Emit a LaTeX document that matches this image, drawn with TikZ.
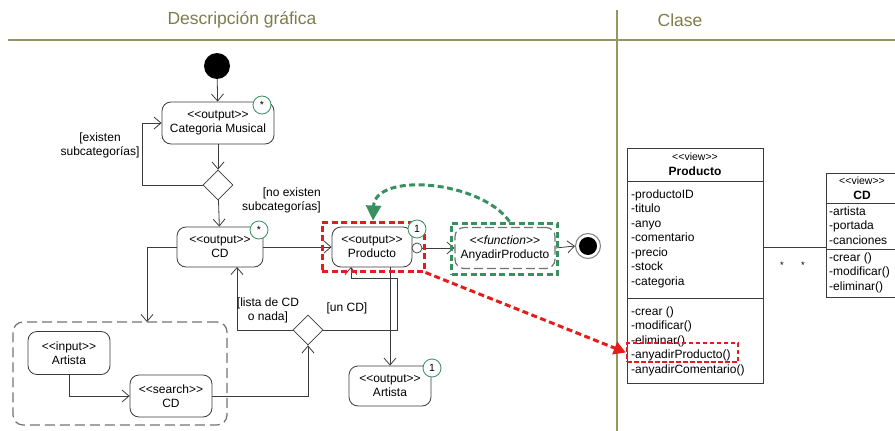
\documentclass[tikz,border=0pt]{standalone}
\usepackage{fontspec}
\setmainfont{Liberation Sans}
\usetikzlibrary{arrows.meta,shapes.geometric}
\definecolor{olivetxt}{RGB}{125,125,75}
\definecolor{oliveline}{RGB}{150,150,100}
\definecolor{umlgreen}{RGB}{55,145,95}
\definecolor{umlred}{RGB}{228,28,28}
\definecolor{edge}{RGB}{60,60,60}
\newcommand\umlfont{\fontsize{12}{14}\selectfont}
\newcommand\st[1]{<{}<#1>{}>}
\tikzset{
  flow/.style={draw=edge, line width=0.8pt, -{Straight Barb[length=7pt,width=12pt]}},
  act/.style={draw=edge, line width=0.8pt, rounded corners=9pt, align=center,
    inner sep=0pt, font=\umlfont, fill=white},
  grayact/.style={act, draw=gray!90!black, line width=1.2pt, dash pattern=on 9pt off 4pt},
  mult/.style={circle, draw=umlgreen, line width=0.8pt, fill=white, minimum size=18pt,
    inner sep=0pt, font=\fontsize{10.5}{10.5}\selectfont},
  dec/.style={diamond, draw=edge, line width=0.8pt, fill=white, minimum width=30pt,
    minimum height=30pt, inner sep=0pt},
  guard/.style={font=\umlfont, align=center, inner sep=0pt},
  hilite/.style={line width=3pt, dash pattern=on 6pt off 3.5pt},
  clsbox/.style={draw=edge, line width=0.8pt, anchor=north west, inner sep=0pt},
  clstxt/.style={font=\umlfont, anchor=west, inner sep=0pt, text height=8.8pt, text depth=2.6pt},
  head/.style={olivetxt, font=\fontsize{17.5}{17.5}\selectfont}
}
\begin{document}
\begin{tikzpicture}[x=1pt,y=-1pt]
\useasboundingbox (0,0) rectangle (895,431);

% column headers
\draw[oliveline, line width=2.2pt] (8,40) -- (895,40);
\draw[oliveline, line width=1.5pt] (617,10) -- (617,431);
\node[head] (hdesc) at (242,20) {Descripción gráfica};
\node[head] (hcls) at (680,20) {Clase};

% ---------- activity flow ----------
\node[circle, fill=black, minimum size=26pt, inner sep=0pt] (start) at (217,66) {};
\node[act, minimum width=112pt, minimum height=42pt] (cat) at (218,123) {\st{output}\\Categoria Musical};
\node[dec] (d1) at (218,185) {};
\node[act, minimum width=86pt, minimum height=40pt] (cd) at (220,247) {\st{output}\\CD};
\node[act, minimum width=80pt, minimum height=40pt] (prod) at (372,247) {\st{output}\\Producto};
\node[grayact, minimum width=100pt, minimum height=41pt] (fun) at (505,248) {<{}<\textit{function}>{}>\\AnyadirProducto};
\node[circle, draw=gray, line width=1pt, minimum size=25pt, inner sep=0pt] (fin) at (588,246) {};
\node[circle, fill=black, minimum size=18pt, inner sep=0pt] (finin) at (fin) {};

% search group
\node[draw=gray!90!black, line width=1.2pt, dash pattern=on 10pt off 5pt, rounded corners=10pt,
  minimum width=214pt, minimum height=103pt, inner sep=0pt] (grp) at (120,373.5) {};
\node[act, minimum width=82pt, minimum height=43pt] (ain) at (69,353) {\st{input}\\Artista};
\node[act, minimum width=82pt, minimum height=42pt] (scd) at (171,396) {\st{search}\\CD};
\node[dec] (d2) at (308,330) {};
\node[act, minimum width=82pt, minimum height=40pt] (aout) at (390,386) {\st{output}\\Artista};

% connectors
\draw[flow] (start) -- (cat);
\draw[flow] (cat) -- (d1);
\coordinate (lp) at (142,185);
\draw[flow] (d1.west) -- (lp) |- (cat.west);
\draw[flow] (d1) -- (cd);
\draw[flow] (cd) -- (prod);
\coordinate (gt) at (147,322);
\draw[flow] (cd.west) -| (gt);
\draw[flow] (ain.south) |- (scd.west);
\draw[flow] (scd.east) -| (d2.south);
\coordinate (cdb) at (237,267);
\draw[flow] (d2.west) -| (cdb);
\coordinate (uc) at (397,278);
\coordinate (pb) at (351,267);
\draw[flow] (d2.east) -| (uc) -| (pb);
\coordinate (pb2) at (390,267);
\draw[flow] (pb2) -- (aout.north);
\node[circle, draw=edge, fill=white, minimum size=10pt, inner sep=0pt, line width=0.7pt] (sock) at (417,248) {};
\draw[flow] (sock.east) -- (fun.west);
\draw[flow] (fun.east) -- (fin.west);

% guards
\node[guard] (g1) at (100,145) {[existen\\subcategorías]};
\node[guard, align=right, anchor=east] (g2) at (321,200) {[no existen\\subcategorías]};
\node[guard] (g3) at (268,310) {[lista de CD\\o nada]};
\node[guard] (g4) at (347,308) {[un CD]};

% multiplicities
\node[mult] (m1) at (262,105) {*};
\node[mult] (m2) at (259,230) {*};
\node[mult] (m4) at (432,368) {1};

% highlighted boxes
\node[draw=umlred, hilite, minimum width=102pt, minimum height=49pt, inner sep=0pt] (rbox) at (373,246.5) {};
\node[mult] (m3) at (417,229) {1};
\node[draw=umlgreen, hilite, minimum width=106pt, minimum height=51pt, inner sep=0pt] (gbox) at (504.5,248.5) {};

% ---------- classes ----------
\node[clsbox, minimum width=136pt, minimum height=235pt] (pcls) at (627,148) {};
\draw[edge, line width=0.8pt] (627,181) -- (763,181);
\draw[edge, line width=0.8pt] (627,298) -- (763,298);
\node[font=\fontsize{10.5}{11}\selectfont, inner sep=0pt] (pv) at (695,157) {\st{view}};
\node[font=\umlfont\bfseries, inner sep=0pt] (pn) at (695,171) {Producto};
\foreach \t [count=\i] in {-productoID,-titulo,-anyo,-comentario,-precio,-stock,-categoria}
  \node[clstxt] (pa\i) at (631,{195+14.5*(\i-1)}) {\t};
\foreach \t [count=\i] in {-crear (),-modificar(),-eliminar(),-anyadirProducto(),-anyadirComentario()}
  \node[clstxt] (po\i) at (631,{312+14.5*(\i-1)}) {\t};

\node[clsbox, minimum width=71pt, minimum height=124pt] (ccls) at (826,173) {};
\draw[edge, line width=0.8pt] (826,203) -- (897,203);
\draw[edge, line width=0.8pt] (826,249) -- (897,249);
\node[font=\fontsize{10.5}{11}\selectfont, inner sep=0pt] (cv) at (862,181) {\st{view}};
\node[font=\umlfont\bfseries, inner sep=0pt] (cn) at (862,195) {CD};
\foreach \t [count=\i] in {-artista,-portada,-canciones}
  \node[clstxt] (ca\i) at (829,{212+14.5*(\i-1)}) {\t};
\foreach \t [count=\i] in {-crear (),-modificar(),-eliminar()}
  \node[clstxt] (co\i) at (829,{258+14.5*(\i-1)}) {\t};

% association
\coordinate (as1) at (763,247);
\coordinate (as2) at (826,247);
\draw[edge, line width=0.8pt] (as1) -- (as2);
\node[font=\fontsize{9.5}{9.5}\selectfont, inner sep=0pt] (mu1) at (782,265) {*};
\node[font=\fontsize{9.5}{9.5}\selectfont, inner sep=0pt] (mu2) at (803,265) {*};

% trace links
\node[draw=umlred, line width=2.4pt, dash pattern=on 4.5pt off 2.5pt, minimum width=111pt,
  minimum height=19pt, inner sep=0pt] (anybox) at (682.5,352.5) {};
\draw[umlred, hilite, -{Triangle[length=12pt,width=13pt]}] (rbox.south east) -- (anybox.west);
\draw[umlgreen, hilite, -{Triangle[length=15pt,width=15pt]}]
  ([xshift=5pt]gbox.north) .. controls (480,180) and (375,172) .. (rbox.north);
\end{tikzpicture}
\end{document}
